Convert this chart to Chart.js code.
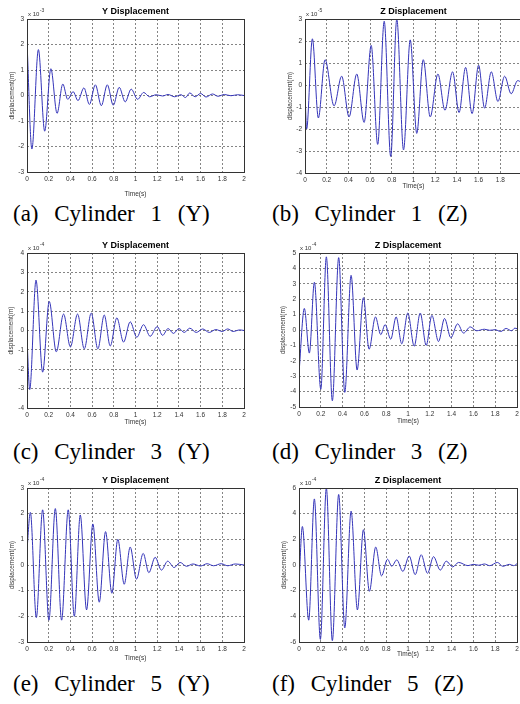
<!DOCTYPE html>
<html>
<head>
<meta charset="utf-8">
<script src="https://cdn.jsdelivr.net/npm/chart.js@4.4.0/dist/chart.umd.min.js"></script>
<style>
  body { margin: 0; width: 520px; height: 704px; overflow: hidden; background: #fff; position: relative; }
  .panel { position: absolute; }
  .cap { position: absolute; font-family: "Liberation Serif", "Times New Roman", serif; font-size: 23px; line-height: 23px; word-spacing: 10px; color: #000; white-space: nowrap; }
</style>
</head>
<body>
<div class="panel" style="left:0;top:0;width:260px;height:200px"><canvas id="ca"></canvas></div>
<div class="panel" style="left:260px;top:0;width:270px;height:200px"><canvas id="cb"></canvas></div>
<div class="panel" style="left:0;top:232px;width:260px;height:200px"><canvas id="cc"></canvas></div>
<div class="panel" style="left:260px;top:232px;width:270px;height:200px"><canvas id="cd"></canvas></div>
<div class="panel" style="left:0;top:466px;width:260px;height:200px"><canvas id="ce"></canvas></div>
<div class="panel" style="left:260px;top:466px;width:270px;height:200px"><canvas id="cf"></canvas></div>

<div class="cap" style="left:13px;top:202px">(a) Cylinder 1 (Y)</div>
<div class="cap" style="left:272px;top:202px">(b) Cylinder 1 (Z)</div>
<div class="cap" style="left:13px;top:440px">(c) Cylinder 3 (Y)</div>
<div class="cap" style="left:272px;top:440px">(d) Cylinder 3 (Z)</div>
<div class="cap" style="left:13px;top:672px">(e) Cylinder 5 (Y)</div>
<div class="cap" style="left:272px;top:672px">(f) Cylinder 5 (Z)</div>

<script>
// time axis ticks shared by all panels
const xTicks = [0, 0.2, 0.4, 0.6, 0.8, 1, 1.2, 1.4, 1.6, 1.8, 2];

// (a) cylinder 1, Y, values x 10^-3 (peaks / troughs)
const timeA = [0, 0.045, 0.105, 0.163, 0.22, 0.277, 0.33, 0.375, 0.425, 0.47, 0.525, 0.575, 0.63, 0.685, 0.74, 0.795, 0.85, 0.905, 0.96, 1.02, 1.075, 1.13, 1.19, 1.25, 1.3, 1.36, 1.42, 1.46, 1.5, 1.55, 1.6, 1.65, 1.71, 1.76, 1.82, 1.88, 1.94, 2.0];
const dispA = [2.1, -2.1, 1.8, -1.4, 1.05, -0.7, 0.45, -0.15, 0.15, -0.2, 0.3, -0.35, 0.42, -0.4, 0.42, -0.38, 0.32, -0.25, 0.25, -0.15, 0.12, -0.05, 0.03, -0.02, 0.04, -0.05, 0.03, -0.08, 0.1, -0.05, 0.08, -0.06, 0.06, -0.03, 0.04, -0.01, 0.03, 0.0];
const yTicksA = [-3, -2, -1, 0, 1, 2, 3];

// (b) cylinder 1, Z, values x 10^-5
const timeB = [0, 0.015, 0.068, 0.123, 0.185, 0.268, 0.338, 0.406, 0.477, 0.545, 0.61, 0.67, 0.73, 0.79, 0.846, 0.908, 0.97, 1.03, 1.09, 1.154, 1.225, 1.29, 1.36, 1.42, 1.48, 1.54, 1.6, 1.655, 1.717, 1.778, 1.84, 1.9, 1.96, 2.0];
const dispB = [-0.3, -2.0, 2.1, -1.5, 1.15, -0.95, 0.4, -1.45, 0.5, -1.7, 1.8, -2.7, 2.9, -3.25, 3.0, -2.95, 2.05, -2.2, 1.15, -1.45, 0.5, -1.15, 0.6, -1.25, 0.8, -1.3, 0.9, -1.05, 0.6, -0.75, 0.4, -0.4, 0.2, 0.1];
const yTicksB = [-4, -3, -2, -1, 0, 1, 2, 3];

// (c) cylinder 3, Y, values x 10^-4
const timeC = [0, 0.025, 0.083, 0.144, 0.205, 0.27, 0.337, 0.4, 0.466, 0.528, 0.592, 0.653, 0.712, 0.767, 0.828, 0.89, 0.951, 1.012, 1.074, 1.135, 1.2, 1.25, 1.3, 1.35, 1.4, 1.45, 1.5, 1.56, 1.62, 1.68, 1.74, 1.8, 1.85, 1.9, 1.96, 2.0];
const dispC = [-0.4, -3.05, 2.6, -2.15, 1.5, -1.1, 0.85, -0.85, 0.85, -0.95, 0.9, -0.95, 0.8, -0.8, 0.65, -0.6, 0.45, -0.35, 0.3, -0.3, 0.2, -0.25, 0.1, -0.15, 0.1, -0.1, 0.12, -0.1, 0.08, -0.1, 0.05, -0.05, 0.08, -0.05, 0.03, 0.0];
const yTicksC = [-4, -3, -2, -1, 0, 1, 2, 3, 4];

// (d) cylinder 3, Z, values x 10^-4
const timeD = [0, 0.049, 0.095, 0.141, 0.2, 0.251, 0.306, 0.364, 0.42, 0.478, 0.533, 0.591, 0.643, 0.701, 0.75, 0.79, 0.842, 0.891, 0.943, 0.998, 1.057, 1.112, 1.167, 1.219, 1.28, 1.335, 1.393, 1.455, 1.51, 1.571, 1.63, 1.7, 1.75, 1.8, 1.85, 1.9, 1.95, 1.98, 2.0];
const dispD = [-2.8, 1.4, -1.5, 3.1, -3.85, 4.75, -4.6, 4.7, -4.05, 3.55, -2.6, 2.1, -1.25, 0.85, -0.3, 0.35, -0.6, 0.85, -0.9, 1.1, -1.05, 1.1, -1.0, 0.95, -0.75, 0.75, -0.5, 0.4, -0.2, 0.2, -0.05, 0.05, -0.02, 0.02, -0.1, 0.1, -0.05, 0.12, 0.08];
const yTicksD = [-5, -4, -3, -2, -1, 0, 1, 2, 3, 4, 5];

// (e) cylinder 5, Y, values x 10^-4
const timeE = [0, 0.031, 0.086, 0.144, 0.202, 0.261, 0.319, 0.38, 0.436, 0.491, 0.549, 0.607, 0.666, 0.724, 0.782, 0.837, 0.896, 0.951, 1.009, 1.071, 1.123, 1.181, 1.239, 1.297, 1.356, 1.411, 1.47, 1.53, 1.6, 1.66, 1.72, 1.79, 1.85, 1.92, 2.0];
const dispE = [0.6, 2.05, -2.05, 2.15, -2.15, 2.2, -2.15, 2.15, -2.0, 1.95, -1.75, 1.6, -1.45, 1.3, -1.1, 1.0, -0.75, 0.7, -0.55, 0.45, -0.3, 0.3, -0.2, 0.15, -0.1, 0.1, -0.05, 0.04, -0.04, 0.05, -0.03, 0.05, -0.03, 0.04, 0.0];
const yTicksE = [-3, -2, -1, 0, 1, 2, 3];

// (f) cylinder 5, Z, values x 10^-4
const timeF = [0, 0.031, 0.089, 0.141, 0.196, 0.251, 0.306, 0.364, 0.42, 0.478, 0.536, 0.591, 0.646, 0.704, 0.757, 0.812, 0.851, 0.897, 0.953, 1.011, 1.066, 1.121, 1.179, 1.234, 1.296, 1.351, 1.41, 1.464, 1.55, 1.6, 1.65, 1.7, 1.75, 1.82, 1.87, 1.93, 1.97, 2.0];
const dispF = [-1.4, 3.0, -4.3, 5.15, -5.8, 6.0, -5.9, 5.5, -4.9, 4.2, -3.5, 2.75, -2.05, 1.4, -0.85, 0.45, -0.1, 0.4, -0.5, 0.7, -0.75, 0.8, -0.65, 0.65, -0.4, 0.3, -0.15, 0.2, -0.05, 0.05, -0.02, 0.08, -0.05, 0.2, -0.1, 0.05, -0.05, 0.1];
const yTicksF = [-6, -4, -2, 0, 2, 4, 6];

// box = canvas container, plot = wanted plot area (page px)
const panels = [
  { id: 'ca', title: 'Y Displacement', exp: '-3', t: timeA, y: dispA, yTicks: yTicksA,
    box: { x: 0, y: 0, w: 260, h: 200 }, plot: { l: 27, t: 19, r: 244, b: 172 }, yTitleX: 12, xTitleY: 194 },
  { id: 'cb', title: 'Z Displacement', exp: '-5', t: timeB, y: dispB, yTicks: yTicksB,
    box: { x: 260, y: 0, w: 270, h: 200 }, plot: { l: 305, t: 19, r: 522, b: 173 }, yTitleX: 290, xTitleY: 186 },
  { id: 'cc', title: 'Y Displacement', exp: '-4', t: timeC, y: dispC, yTicks: yTicksC,
    box: { x: 0, y: 232, w: 260, h: 200 }, plot: { l: 27, t: 253, r: 244, b: 408 }, yTitleX: 11, xTitleY: 422 },
  { id: 'cd', title: 'Z Displacement', exp: '-4', t: timeD, y: dispD, yTicks: yTicksD,
    box: { x: 260, y: 232, w: 270, h: 200 }, plot: { l: 299, t: 253, r: 517, b: 407 }, yTitleX: 283, xTitleY: 421 },
  { id: 'ce', title: 'Y Displacement', exp: '-4', t: timeE, y: dispE, yTicks: yTicksE,
    box: { x: 0, y: 466, w: 260, h: 200 }, plot: { l: 27, t: 488, r: 244, b: 642 }, yTitleX: 12, xTitleY: 658 },
  { id: 'cf', title: 'Z Displacement', exp: '-4', t: timeF, y: dispF, yTicks: yTicksF,
    box: { x: 260, y: 466, w: 270, h: 200 }, plot: { l: 299, t: 488, r: 517, b: 642 }, yTitleX: 284, xTitleY: 654 }
];

const SANS = '"Liberation Sans", Arial, sans-serif';
const smallFont = { family: SANS, size: 6.5 };
const halfLine = 6.5 * 1.2 / 2;

// frame, title and the "x 10^n" factor, matlab style
const framePlugin = {
  id: 'frame',
  afterDatasetsDraw(chart, args, o) {
    const { ctx, chartArea: a } = chart;
    ctx.save();
    ctx.strokeStyle = '#333';
    ctx.lineWidth = 1;
    ctx.strokeRect(Math.round(a.left) + 0.5, Math.round(a.top) + 0.5, Math.round(a.right - a.left), Math.round(a.bottom - a.top));
    ctx.fillStyle = '#000';
    ctx.font = 'bold 9px ' + SANS;
    ctx.textAlign = 'center';
    ctx.fillText(o.title, (a.left + a.right) / 2, a.top - 5);
    ctx.fillStyle = '#333';
    ctx.textAlign = 'left';
    ctx.font = '6px ' + SANS;
    ctx.fillText('x 10', a.left + 1, a.top - 3);
    const w = ctx.measureText('x 10').width;
    ctx.font = '5px ' + SANS;
    ctx.fillText(o.exp, a.left + 1.5 + w, a.top - 7);
    ctx.restore();
  }
};

panels.forEach(p => {
  const padTop = p.plot.t - p.box.y;
  const padRight = p.box.x + p.box.w - p.plot.r;
  const yWidth = p.plot.l - p.box.x;
  const xHeight = p.box.y + p.box.h - p.plot.b;

  new Chart(document.getElementById(p.id), {
    type: 'line',
    data: {
      datasets: [{
        data: p.t.map((t, i) => ({ x: t, y: p.y[i] })),
        borderColor: 'rgb(52, 52, 185)',
        borderWidth: 1,
        pointRadius: 0,
        cubicInterpolationMode: 'monotone',
        fill: false
      }]
    },
    options: {
      responsive: true,
      maintainAspectRatio: false,
      animation: false,
      layout: { padding: { top: padTop, right: padRight, left: 0, bottom: 0 } },
      plugins: {
        legend: { display: false },
        tooltip: { enabled: false },
        frame: { title: p.title, exp: p.exp }
      },
      scales: {
        x: {
          type: 'linear',
          min: 0,
          max: 2,
          afterBuildTicks: s => { s.ticks = xTicks.map(v => ({ value: v })); },
          afterFit: s => { s.height = xHeight; },
          grid: { color: '#666', lineWidth: 0.8, drawTicks: false },
          border: { display: false, dash: [2, 2] },
          ticks: { padding: 3, maxRotation: 0, autoSkip: false, color: '#333', font: smallFont,
                   callback: v => String(parseFloat(v.toFixed(1))) },
          title: { display: true, text: 'Time(s)', color: '#333', font: smallFont,
                   padding: { top: 0, bottom: (p.box.y + p.box.h - p.xTitleY) - halfLine } }
        },
        y: {
          min: p.yTicks[0],
          max: p.yTicks[p.yTicks.length - 1],
          afterBuildTicks: s => { s.ticks = p.yTicks.map(v => ({ value: v })); },
          afterFit: s => { s.width = yWidth; },
          grid: { color: '#666', lineWidth: 0.8, drawTicks: false },
          border: { display: false, dash: [2, 2] },
          ticks: { padding: 3, color: '#333', font: smallFont, callback: v => String(v) },
          title: { display: true, text: 'displacement(m)', color: '#333', font: smallFont,
                   padding: { top: (p.yTitleX - p.box.x) - halfLine, bottom: 0 } }
        }
      }
    },
    plugins: [framePlugin]
  });
});
</script>
</body>
</html>
